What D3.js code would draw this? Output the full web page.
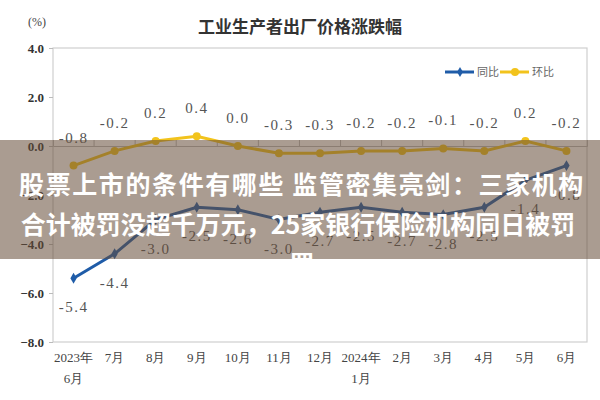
<!DOCTYPE html>
<html><head><meta charset="utf-8">
<script src="https://cdn.jsdelivr.net/npm/d3@7/dist/d3.min.js"></script>
<style>body{margin:0;background:#fff}svg{display:block}</style>
</head><body>
<svg id="c" width="600" height="400"></svg>
<script>
const months = ["2023年\n6月","7月","8月","9月","10月","11月","12月","2024年\n1月","2月","3月","4月","5月","6月"];
const yoy = [-5.4,-4.4,-3.0,-2.5,-2.6,-3.0,-2.7,-2.5,-2.7,-2.8,-2.5,-1.4,-0.8];
const mom = [-0.8,-0.2,0.2,0.4,0.0,-0.3,-0.3,-0.2,-0.2,-0.1,-0.2,0.2,-0.2];
const yTicks = [4,2,0,-2,-4,-6,-8];
const seriesNames = ["同比","环比"];
const title = "工业生产者出厂价格涨跌幅";
const overlayLines = ["股票上市的条件有哪些 监管密集亮剑：三家机构","合计被罚没超千万元，25家银行保险机构同日被罚","罚"];

const svg = d3.select("#c");
const L=53,R=587,T=48,B=342;
const x = d3.scalePoint().domain(d3.range(months.length)).range([L,R]).padding(0.5);
const y = d3.scaleLinear().domain([-8,4]).range([B,T]);
const blue="#1f5ca8", yellow="#f2c31c";
const serif="'Liberation Serif','DejaVu Serif',serif";

svg.append("text").attr("x",300).attr("y",33).attr("text-anchor","middle")
  .attr("font-family","'Noto Sans CJK SC',sans-serif").attr("font-weight","bold")
  .attr("font-size",17).attr("fill","#333").text(title);
svg.append("text").attr("x",37).attr("y",26).attr("text-anchor","middle")
  .attr("font-family",serif).attr("font-size",12).attr("fill","#444").text("(%)");

svg.append("rect").attr("x",L).attr("y",T).attr("width",R-L).attr("height",B-T)
  .attr("fill","none").attr("stroke","#cfcfcf").attr("stroke-width",1.2);

const ya = svg.append("g").attr("transform",`translate(${L},0)`)
  .call(d3.axisLeft(y).tickValues(yTicks).tickFormat(d3.format(".1f")).tickSize(4));
ya.select(".domain").remove();
ya.selectAll("line").attr("stroke","#bbb");
ya.selectAll("text").attr("font-family",serif).attr("font-size",13).attr("font-weight","bold")
  .attr("fill","#333").attr("dx",-2);

// zero axis with category-boundary ticks
const step = x.step();
const xa = svg.append("g").attr("transform",`translate(0,${y(0)})`)
  .call(d3.axisTop(x).tickValues(d3.range(1,months.length)).tickFormat("").tickSizeOuter(0).tickSize(6));
xa.selectAll(".tick").attr("transform",d=>`translate(${x(d)-step/2},0)`);
xa.select(".domain").attr("stroke","#bbb");
xa.selectAll("line").attr("stroke","#bbb");

// x labels
const xl = svg.append("g");
months.forEach((m,i)=>{
  const t = xl.append("text").attr("text-anchor","middle").attr("font-family",serif)
    .attr("font-size",13).attr("fill","#444");
  m.split("\n").forEach((s,j)=>t.append("tspan").attr("x",x(i)).attr("y",362+j*21).text(s));
});

const line = d3.line().x((d,i)=>x(i)).y(d=>y(d));
svg.append("path").datum(mom).attr("d",line).attr("fill","none").attr("stroke",yellow).attr("stroke-width",3);
svg.append("path").datum(yoy).attr("d",line).attr("fill","none").attr("stroke",blue).attr("stroke-width",3);
svg.selectAll(".mm").data(mom).join("circle").attr("cx",(d,i)=>x(i)).attr("cy",d=>y(d)).attr("r",4).attr("fill",yellow);
svg.selectAll(".ym").data(yoy).join("path")
  .attr("d",d3.symbol(d3.symbolDiamond,34))
  .attr("transform",(d,i)=>`translate(${x(i)},${y(d)})`).attr("fill",blue);

const fmt = d=>d.toFixed(1);
svg.selectAll(".ml").data(mom).join("text").attr("x",(d,i)=>x(i)).attr("y",d=>y(d)-23)
  .attr("text-anchor","middle").attr("font-family",serif).attr("font-size",15)
  .attr("letter-spacing",1.5).attr("fill","#555").text(fmt);
svg.selectAll(".yl").data(yoy).join("text").attr("x",(d,i)=>x(i)).attr("y",d=>y(d)+34)
  .attr("text-anchor","middle").attr("font-family",serif).attr("font-size",15)
  .attr("letter-spacing",1.5).attr("fill","#555").text(fmt);

// legend
const lg = svg.append("g").attr("transform","translate(445,72)");
[[blue,"同比",0],[yellow,"环比",55]].forEach(([c,t,dx],k)=>{
  lg.append("line").attr("x1",dx).attr("x2",dx+29).attr("stroke",c).attr("stroke-width",3);
  if(k===0) lg.append("path").attr("d",d3.symbol(d3.symbolDiamond,30)).attr("transform",`translate(${dx+15},0)`).attr("fill",c);
  else lg.append("circle").attr("cx",dx+15).attr("r",4).attr("fill",c);
  lg.append("text").attr("x",dx+32).attr("y",4).attr("font-family","'Noto Sans CJK SC',sans-serif")
    .attr("font-size",11).attr("fill","#666").text(t);
});

// overlay banner
svg.append("rect").attr("x",0).attr("y",140).attr("width",600).attr("height",119)
  .attr("fill","rgba(100,75,55,0.55)");
const ot = svg.append("text").attr("text-anchor","middle").attr("font-family","'Noto Sans CJK SC',sans-serif")
  .attr("font-weight","bold").attr("font-size",25).attr("fill","#fff");
overlayLines.forEach((s,j)=>ot.append("tspan").attr("x",j===1?298:302).attr("y",194+j*40)
  .attr("letter-spacing",j===0?1.6:0).text(s));
</script>
</body></html>
